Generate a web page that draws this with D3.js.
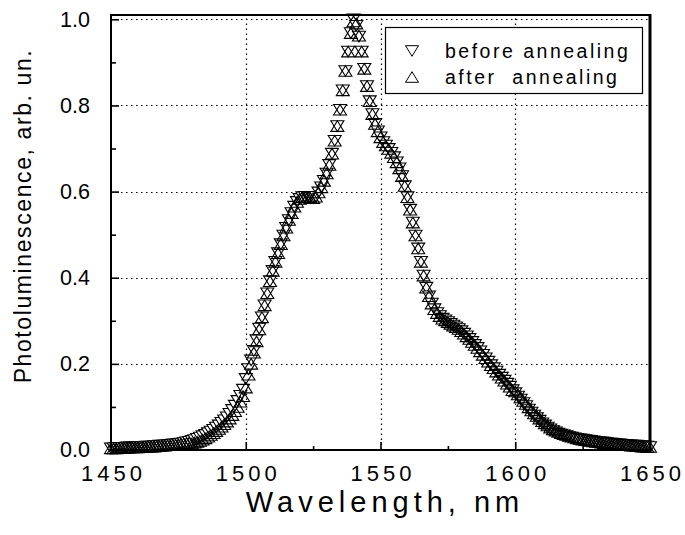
<!DOCTYPE html>
<html><head><meta charset="utf-8">
<script src="https://cdn.jsdelivr.net/npm/d3@7"></script>
<style>body{margin:0;background:#fff} text{font-family:Arial,"Liberation Sans",sans-serif;fill:#000}</style>
</head><body><svg id="c" width="685" height="535"></svg>
<script>
const wavelength = [1450,1451,1452,1453,1454,1455,1456,1457,1458,1459,1460,1461,1462,1463,1464,1465,1466,1467,1468,1469,
1470,1471,1472,1473,1474,1475,1476,1477,1478,1479,1480,1481,1482,1483,1484,1485,1486,1487,1488,1489,
1490,1491,1492,1493,1494,1495,1496,1497,1498,1499,1500,1501,1502,1503,1504,1505,1506,1507,1508,1509,
1510,1511,1512,1513,1514,1515,1516,1517,1518,1519,1520,1521,1522,1523,1524,1525,1526,1527,1528,1529,
1530,1531,1532,1533,1534,1535,1536,1537,1538,1539,1540,1541,1542,1543,1544,1545,1546,1547,1548,1549,
1550,1551,1552,1553,1554,1555,1556,1557,1558,1559,1560,1561,1562,1563,1564,1565,1566,1567,1568,1569,
1570,1571,1572,1573,1574,1575,1576,1577,1578,1579,1580,1581,1582,1583,1584,1585,1586,1587,1588,1589,
1590,1591,1592,1593,1594,1595,1596,1597,1598,1599,1600,1601,1602,1603,1604,1605,1606,1607,1608,1609,
1610,1611,1612,1613,1614,1615,1616,1617,1618,1619,1620,1621,1622,1623,1624,1625,1626,1627,1628,1629,
1630,1631,1632,1633,1634,1635,1636,1637,1638,1639,1640,1641,1642,1643,1644,1645,1646,1647,1648,1649,1650];

const before = [0.004,0.004,0.005,0.005,0.005,0.005,0.006,0.006,0.006,0.006,
0.007,0.007,0.007,0.008,0.008,0.008,0.009,0.009,0.010,0.010,
0.011,0.011,0.012,0.013,0.013,0.014,0.015,0.016,0.018,0.019,
0.021,0.023,0.026,0.029,0.032,0.035,0.039,0.043,0.047,0.052,
0.057,0.063,0.069,0.076,0.084,0.093,0.103,0.114,0.126,0.140,
0.165,0.188,0.208,0.230,0.255,0.282,0.308,0.336,0.364,0.392,
0.416,0.437,0.457,0.478,0.498,0.516,0.534,0.550,0.565,0.576,
0.583,0.587,0.588,0.587,0.585,0.585,0.588,0.598,0.610,0.625,
0.642,0.662,0.688,0.718,0.752,0.790,0.835,0.880,0.925,0.968,
1.000,0.985,0.960,0.925,0.885,0.845,0.810,0.780,0.757,0.740,
0.726,0.715,0.707,0.699,0.690,0.680,0.668,0.654,0.636,0.613,
0.587,0.558,0.528,0.498,0.468,0.437,0.405,0.377,0.357,0.340,
0.327,0.318,0.311,0.305,0.301,0.297,0.293,0.289,0.285,0.281,
0.276,0.270,0.264,0.258,0.251,0.244,0.237,0.229,0.221,0.213,
0.205,0.197,0.190,0.182,0.175,0.168,0.161,0.154,0.147,0.139,
0.132,0.124,0.117,0.109,0.102,0.094,0.087,0.080,0.074,0.068,
0.062,0.057,0.052,0.048,0.044,0.041,0.038,0.036,0.034,0.032,
0.030,0.029,0.027,0.026,0.025,0.024,0.023,0.022,0.021,0.020,
0.019,0.018,0.018,0.017,0.016,0.015,0.015,0.014,0.013,0.013,
0.012,0.012,0.011,0.011,0.010,0.010,0.009,0.009,0.008,0.008,0.007];

const after = [0.004,0.004,0.004,0.005,0.005,0.005,0.005,0.006,0.006,0.006,
0.006,0.007,0.007,0.007,0.008,0.008,0.008,0.009,0.009,0.010,
0.010,0.011,0.011,0.012,0.012,0.013,0.014,0.015,0.016,0.017,
0.015,0.017,0.019,0.021,0.024,0.027,0.031,0.035,0.039,0.044,
0.049,0.054,0.060,0.066,0.073,0.081,0.090,0.100,0.112,0.125,
0.145,0.175,0.200,0.226,0.252,0.280,0.308,0.336,0.364,0.392,
0.416,0.437,0.457,0.478,0.498,0.516,0.534,0.550,0.565,0.576,
0.583,0.587,0.588,0.587,0.585,0.585,0.588,0.598,0.610,0.625,
0.642,0.662,0.688,0.718,0.752,0.790,0.835,0.880,0.925,0.968,
0.995,0.990,0.962,0.925,0.885,0.845,0.810,0.780,0.757,0.740,
0.726,0.715,0.707,0.699,0.690,0.680,0.668,0.654,0.636,0.613,
0.587,0.558,0.528,0.498,0.468,0.437,0.405,0.377,0.357,0.340,
0.327,0.318,0.311,0.305,0.301,0.297,0.293,0.289,0.285,0.281,
0.276,0.270,0.264,0.258,0.251,0.244,0.237,0.229,0.221,0.213,
0.205,0.197,0.190,0.182,0.175,0.168,0.161,0.154,0.147,0.139,
0.136,0.129,0.122,0.114,0.107,0.099,0.092,0.085,0.079,0.073,
0.067,0.062,0.057,0.052,0.048,0.045,0.042,0.039,0.037,0.035,
0.033,0.031,0.029,0.027,0.026,0.024,0.023,0.022,0.021,0.020,
0.019,0.018,0.017,0.016,0.016,0.015,0.014,0.014,0.013,0.012,
0.012,0.011,0.011,0.010,0.010,0.009,0.009,0.008,0.008,0.007,0.007];

const xTicks = [1450,1500,1550,1600,1650];
const xMinorTicks = [1475,1525,1575,1625];
const yTicks = [0.0,0.2,0.4,0.6,0.8,1.0];
const yMinorTicks = [0.1,0.3,0.5,0.7,0.9];
const seriesNames = ["before annealing","after  annealing"];
const xTitle = "Wavelength, nm";
const yTitle = "Photoluminescence, arb. un.";

const svg = d3.select("#c");
const x = d3.scaleLinear().domain([1450,1650]).range([111,650]);
const y = d3.scaleLinear().domain([0,1.01]).range([450,15]);

// grid
const grid = svg.append("g").attr("stroke","#000").attr("stroke-width",1.2).attr("stroke-dasharray","1.5,3.5");
grid.selectAll(".gx").data(xTicks.slice(1,-1)).enter().append("line")
  .attr("x1",d=>Math.round(x(d))+0.5).attr("x2",d=>Math.round(x(d))+0.5).attr("y1",y(0)).attr("y2",y(1.01));
grid.selectAll(".gy").data(yTicks.slice(1)).enter().append("line")
  .attr("y1",d=>Math.round(y(d))+0.5).attr("y2",d=>Math.round(y(d))+0.5).attr("x1",x(1450)).attr("x2",x(1650));

// axes
const xAxis = svg.append("g").attr("transform",`translate(0,${y(0)})`)
  .call(d3.axisBottom(x).tickValues(xTicks).tickSizeInner(-8).tickSizeOuter(0).tickPadding(15).tickFormat(d3.format("d")));
xAxis.selectAll("text").attr("font-size","22px").style("letter-spacing","4px").attr("dx","2px");
svg.append("g").attr("transform",`translate(0,${y(0)})`)
  .call(d3.axisBottom(x).tickValues(xMinorTicks).tickSizeInner(-4).tickSizeOuter(0).tickFormat(""));
const yAxis = svg.append("g").attr("transform",`translate(${x(1450)},0)`)
  .call(d3.axisLeft(y).tickValues(yTicks).tickSizeInner(-8).tickSizeOuter(0).tickPadding(21).tickFormat(d3.format(".1f")));
yAxis.selectAll("text").attr("font-size","21.5px");
svg.append("g").attr("transform",`translate(${x(1450)},0)`)
  .call(d3.axisLeft(y).tickValues(yMinorTicks).tickSizeInner(-5).tickSizeOuter(0).tickFormat(""));
svg.selectAll(".domain").remove();
svg.selectAll(".tick line").attr("stroke","#000").attr("stroke-width",1.6);
svg.selectAll(".tick text").attr("font-family","Arial, 'Liberation Sans', sans-serif");

// markers
const tri = (down)=> down ? "M-6.5,-5.3L6.5,-5.3L0,5.3Z" : "M-6.5,5.3L6.5,5.3L0,-5.3Z";
const pts = (vals)=> wavelength.map((w,i)=>({w, v: vals[i]}));
svg.append("g").selectAll("path").data(pts(before)).enter().append("path")
  .attr("d",tri(true)).attr("transform",d=>`translate(${x(d.w)},${y(d.v)})`)
  .attr("fill","#fff").attr("stroke","#000").attr("stroke-width",1.1);
svg.append("g").selectAll("path").data(pts(after)).enter().append("path")
  .attr("d",tri(false)).attr("transform",d=>`translate(${x(d.w)},${y(d.v)})`)
  .attr("fill","none").attr("stroke","#000").attr("stroke-width",1.1);

// frame
const fr = svg.append("g").attr("stroke","#000").attr("fill","none");
fr.append("line").attr("x1",x(1450)).attr("x2",x(1450)).attr("y1",y(1.01)-1).attr("y2",y(0)+1).attr("stroke-width",2);
fr.append("line").attr("x1",x(1450)-1).attr("x2",x(1650)+1).attr("y1",y(0)).attr("y2",y(0)).attr("stroke-width",2);
fr.append("line").attr("x1",x(1450)-1).attr("x2",x(1650)+1).attr("y1",y(1.01)).attr("y2",y(1.01)).attr("stroke-width",2);
fr.append("line").attr("x1",x(1650)).attr("x2",x(1650)).attr("y1",y(1.01)-1).attr("y2",y(0)+1).attr("stroke-width",3);

// legend
const lg = svg.append("g");
lg.append("rect").attr("x",385.5).attr("y",27.5).attr("width",257).attr("height",66)
  .attr("fill","#fff").attr("stroke","#000").attr("stroke-width",1.2);
seriesNames.forEach((n,i)=>{
  const cy = 51 + i*26;
  lg.append("path").attr("d",tri(i===0)).attr("transform",`translate(412,${cy})`)
    .attr("fill","#fff").attr("stroke","#000").attr("stroke-width",1);
  lg.append("text").attr("x",445).attr("y",cy+7).attr("font-size","19.5px")
    .style("letter-spacing","2.5px").style("white-space","pre").text(n);
});

// titles
svg.append("text").attr("x",385).attr("y",512).attr("text-anchor","middle")
  .attr("font-size","29px").style("letter-spacing","5px").text(xTitle);
svg.append("text").attr("transform","translate(31,216) rotate(-90)").attr("text-anchor","middle")
  .attr("font-size","23px").style("letter-spacing","1.6px").text(yTitle);
</script></body></html>
